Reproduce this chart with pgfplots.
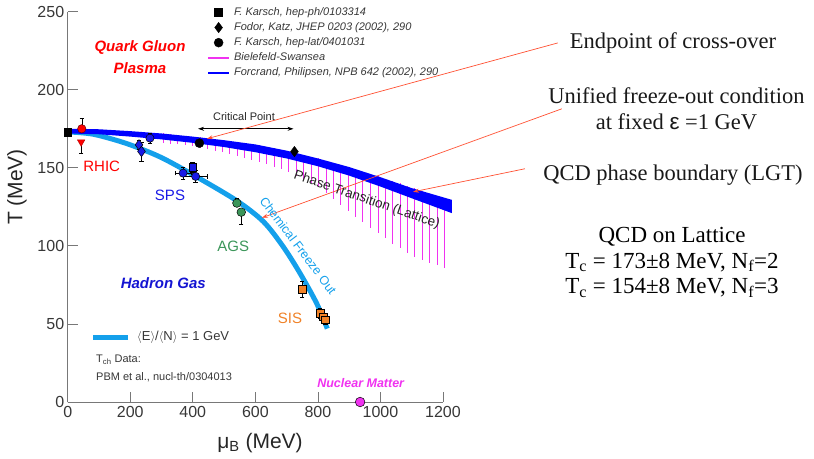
\documentclass[border=0pt]{standalone}
\usepackage{pgfplots}
\pgfplotsset{compat=1.18}
\usepackage{fontspec}
\setmainfont{Liberation Sans}
\newfontfamily\serif{Liberation Serif}
\usetikzlibrary{arrows.meta}

\definecolor{lblue}{RGB}{20,160,235}
\definecolor{mag}{RGB}{240,50,240}
\definecolor{arr}{RGB}{255,80,50}
\definecolor{spsblue}{RGB}{25,25,230}
\definecolor{agsgreen}{RGB}{60,150,90}
\definecolor{sisorange}{RGB}{240,130,40}
\definecolor{axgray}{RGB}{120,120,120}
\definecolor{txtgray}{RGB}{55,55,55}
\newcommand{\fs}[1]{\fontsize{#1bp}{#1bp}\selectfont}

\pgfplotsset{
  ebar/.style={error bars/.cd, y dir=both, y explicit,
    error bar style={black, line width=0.5bp},
    error mark options={rotate=90, black, mark size=2.2bp, line width=0.5bp}},
  exbar/.style={error bars/.cd, y dir=both, y explicit, x dir=both, x explicit,
    error bar style={black, line width=0.5bp},
    error mark options={rotate=90, black, mark size=2.2bp, line width=0.5bp}},
  mklegend/.style={legend image code/.code={\draw[mark repeat=2,mark phase=2,##1] plot coordinates {(0bp,0bp) (10.5bp,0bp) (21bp,0bp)};}},
  lnlegend/.style={legend image code/.code={\draw[##1] (0bp,0bp) -- (21bp,0bp);}},
}

\begin{document}
\begin{tikzpicture}
\useasboundingbox (-67.7bp,-57bp) rectangle (746.3bp,402bp);
\begin{axis}[
  scale only axis, width=375.3bp, height=390.3bp,
  xmin=0, xmax=1200, ymin=0, ymax=250,
  axis lines*=left,
  axis line style={axgray, line width=0.8bp},
  tick align=inside, major tick length=10bp,
  tick style={axgray, line width=0.8bp},
  xtick={0,200,...,1200}, ytick={0,50,...,250},
  /pgf/number format/assume math mode=true,
  /pgf/number format/1000 sep={},
  ticklabel style={font=\fs{16}, text=txtgray},
  xticklabel style={yshift=-1bp},
  clip=false,
  legend style={at={(0.371,1.012)}, anchor=north west, draw=none, fill=none,
    font=\itshape\fs{11}, text=txtgray, row sep=4.6bp, inner sep=0pt,
    cells={anchor=west},
    nodes={text height=8bp, text depth=2.5bp, inner xsep=4bp, inner ysep=0pt}},
]
% legend entries
\addlegendimage{only marks, mark=square*, black, mark size=4bp, mklegend}
\addlegendentry{F. Karsch, hep-ph/0103314}
\addlegendimage{only marks, mark=diamond*, black, mark size=5.2bp, mklegend}
\addlegendentry{Fodor, Katz, JHEP 0203 (2002), 290}
\addlegendimage{only marks, mark=*, black, mark size=4.5bp, mklegend}
\addlegendentry{F. Karsch, hep-lat/0401031}
\addlegendimage{mag, line width=2bp, lnlegend}
\addlegendentry{Bielefeld-Swansea}
\addlegendimage{blue, line width=2bp, lnlegend}
\addlegendentry{Forcrand, Philipsen, NPB 642 (2002), 290}

% lattice error hatch (Bielefeld-Swansea)
\addplot[forget plot, draw=none, mark=none, error bars/.cd, y dir=minus, y explicit,
  error mark=none, error bar style={mag, line width=0.9bp}]
  table[x=x, y=t, y error minus expr=\thisrow{t}-\thisrow{b}] {
x t b
305 172 166
329 171.5 165.5
352 171 165
376 170.5 164.3
400 170 163.8
423 169.5 163
447 169 162
471 168 161
494 167.5 160
518 167 158.8
542 166.5 157.6
565 166 156.3
589 165 155
613 164.5 153.6
636 163.5 152.2
660 162.5 150.6
684 161.5 149
707 160.5 147.2
731 159.5 145
755 158 142.6
779 157 140.2
802 156 137.7
826 154.5 134
850 153 130
873 151.5 126.3
897 150 122.5
921 149 118.7
944 147.5 115
968 146 111.5
992 144.5 108
1015 143 105
1039 141.5 101.5
1063 140 98.5
1086 138.5 95.5
1110 137 93
1134 135 91
1158 133.5 89
1181 132 87.5
1205 130.5 86
};

% chemical freeze-out curve
\addplot[forget plot, lblue, line width=5bp, smooth] coordinates {
(0,173) (82,171.5) (189,165.5) (295,157) (401,145.5) (540,129) (626,115.5)
(689,99.5) (743,82.4) (796,63.2) (830,47)};

% phase transition band (Forcrand-Philipsen)
\addplot[forget plot, fill=blue, draw=none] coordinates {
(0,175) (100,174.7) (200,173.5) (300,172) (400,170) (500,167.7) (600,165)
(700,161) (800,156) (900,150.5) (1000,144) (1100,137) (1228,129.5)
(1228,121) (1100,130.5) (1000,138) (900,145) (800,151) (700,156) (600,160)
(500,163.3) (400,166) (300,168.2) (200,170) (100,171.5) (0,172)} -- cycle;

% lattice points
\addplot[forget plot, only marks, mark=square*, black, mark size=3.8bp] coordinates {(0,173)};
\addplot[forget plot, only marks, mark=*, black, mark size=4.5bp] coordinates {(421,165.8)};
\addplot[forget plot, only marks, mark=diamond*, black, mark size=5.2bp] coordinates {(725,160.4)};

% RHIC
\addplot[forget plot, only marks, mark=triangle*, mark options={rotate=180, fill=red, draw=red!70!black, line width=0.4bp}, mark size=4.3bp, ebar]
  coordinates {(43,166.5) += (0,0) -= (0,7)};
\addplot[forget plot, only marks, mark=*, mark options={fill=red, draw=red!40!black, line width=0.5bp}, mark size=4.2bp, ebar]
  coordinates {(45,175) += (0,7) -= (0,0)};

% SPS
\addplot[forget plot, only marks, mark=diamond*, mark options={fill=spsblue, draw=black, line width=0.5bp}, mark size=5.2bp, ebar]
  coordinates {(228,164.7) +- (0,3) (236,160.5) +- (0,6)};
\addplot[forget plot, only marks, mark=*, mark options={fill=spsblue, draw=black, line width=0.5bp}, mark size=4.1bp, ebar]
  coordinates {(263,169) +- (0,3)};
\addplot[forget plot, only marks, mark=*, mark options={fill=spsblue, draw=black, line width=0.5bp}, mark size=4.1bp, exbar]
  coordinates {(369,146.6) +- (25,4) (409,144.5) +- (38,4)};
\addplot[forget plot, only marks, mark=square*, mark options={fill=spsblue, draw=black, line width=0.5bp}, mark size=3.7bp, ebar]
  coordinates {(399,150.4) +- (0,3)};

% AGS
\addplot[forget plot, only marks, mark=*, mark options={fill=agsgreen, draw=black, line width=0.5bp}, mark size=4.3bp, ebar]
  coordinates {(541,127.4) += (0,3) -= (0,0) (555,121.6) += (0,0) -= (0,8)};

% SIS
\addplot[forget plot, only marks, mark=square*, mark options={fill=sisorange, draw=black, line width=0.5bp}, mark size=3.8bp, ebar]
  coordinates {(750,72.2) +- (0,5) (807,56.8) +- (0,3) (817,54.7) +- (0,3) (824,52.6) +- (0,3)};

% Nuclear matter
\addplot[forget plot, only marks, mark=*, mark options={fill=mag, draw=black, line width=0.5bp}, mark size=4.8bp]
  coordinates {(935,0)};

% arrows
\draw[black, line width=0.7bp, {Stealth[length=6bp,width=4bp]}-{Stealth[length=6bp,width=4bp]}]
  (axis cs:417,175) -- (axis cs:722,175);
\draw[arr, line width=0.7bp, -{Stealth[length=6bp,width=4bp]}] (axis cs:1567,230) -- (axis cs:445,168.6);
\draw[arr, line width=0.7bp, -{Stealth[length=6bp,width=4bp]}] (axis cs:1580,187.8) -- (axis cs:621,118);
\draw[arr, line width=0.7bp, -{Stealth[length=6bp,width=4bp]}] (axis cs:1462,149.4) -- (axis cs:1104,134.6);
\end{axis}

% labels inside plot
\node[font=\bfseries\itshape\fs{15}, text=red] at (72.3bp,354bp) {Quark Gluon};
\node[font=\bfseries\itshape\fs{15}, text=red] at (72.3bp,334bp) {Plasma};
\node[font=\fs{15}, text=red] at (34bp,236bp) {RHIC};
\node[font=\fs{15}, text=spsblue] at (102.3bp,207bp) {SPS};
\node[font=\fs{15}, text=agsgreen] at (165.6bp,155.3bp) {AGS};
\node[font=\fs{15}, text=sisorange] at (222.3bp,83.7bp) {SIS};
\node[font=\bfseries\itshape\fs{15}, text={rgb,255:red,20;green,20;blue,210}] at (95.6bp,119bp) {Hadron Gas};
\node[font=\bfseries\itshape\fs{12.5}, text=mag] at (293bp,18.7bp) {Nuclear Matter};
\node[font=\fs{11}, text=black!85] at (176.3bp,285bp) {Critical Point};
\node[font=\fs{13.5}, text=black!85, rotate=-19] at (299bp,202bp) {Phase Transition (Lattice)};
\node[font=\fs{12.5}, text=lblue, rotate=-53] at (230.5bp,156.5bp) {Chemical Freeze Out};
\draw[lblue, line width=5bp] (25.6bp,64.7bp) -- (60.6bp,64.7bp);
\node[font=\fs{13}, text=txtgray, anchor=west] at (66bp,65bp) {$\langle$E$\rangle$/$\langle$N$\rangle$ = 1 GeV};
\node[font=\fs{11}, text=txtgray, anchor=west] at (25bp,42bp) {T\textsubscript{ch} Data:};
\node[font=\fs{11}, text=txtgray, anchor=west] at (25bp,24.7bp) {PBM et al., nucl-th/0304013};

% axis titles
\node[font=\fs{21}, text=black!85] at (192.3bp,-41bp) {μ\textsubscript{B} (MeV)};
\node[font=\fs{21}, text=black!85, rotate=90] at (-50.7bp,215bp) {T (MeV)};

% right-hand annotations
\node[font=\serif\fs{22.5}, text=black!90] at (605.3bp,359bp) {Endpoint of cross-over};
\node[font=\serif\fs{22.5}, text=black!90, align=center] at (608.8bp,293bp)
  {Unified freeze-out condition\\[3bp]at fixed {\fontspec{Liberation Sans}ε} =1 GeV};
\node[font=\serif\fs{22.5}, text=black!90] at (605.3bp,227bp) {QCD phase boundary (LGT)};
\node[font=\serif\fs{23}, text=black, align=center] at (604.3bp,139.5bp)
  {QCD on Lattice\\[2.5bp]T\textsubscript{c} = 173±8 MeV, N\textsubscript{f}=2\\[2.5bp]T\textsubscript{c} = 154±8 MeV, N\textsubscript{f}=3};
\end{tikzpicture}
\end{document}
